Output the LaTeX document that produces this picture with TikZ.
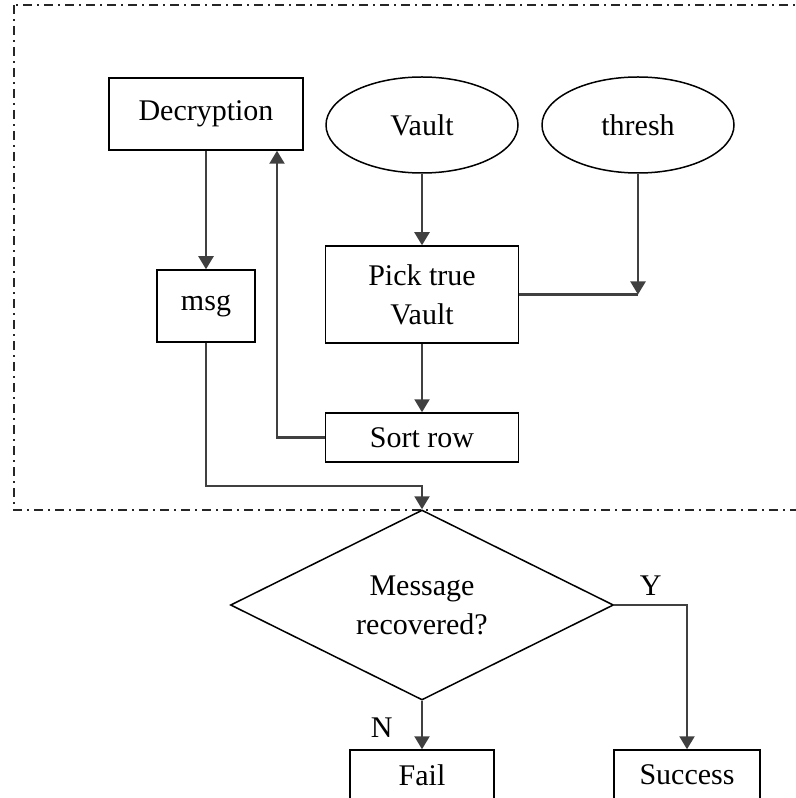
\documentclass[tikz,border=0pt]{standalone}
\usepackage{fontspec}
\setmainfont{Liberation Serif}
\usetikzlibrary{shapes.geometric,arrows.meta}

\begin{document}
\begin{tikzpicture}[x=0.4pt, y=-0.4pt,
    every node/.style={font=\fontsize{12pt}{15.6pt}\selectfont},
    box/.style={draw, rectangle, line width=0.6pt, inner sep=0pt, align=center},
    oval/.style={draw, ellipse, line width=0.6pt, inner sep=0pt,
        minimum width=76.8pt, minimum height=38.4pt},
    decide/.style={draw, diamond, aspect=2, line width=0.6pt, inner sep=0pt,
        align=center, minimum width=153.2pt, minimum height=76pt},
    wire/.style={draw=black!75, line width=0.9pt},
    conn/.style={wire, -{Triangle[length=5.2pt, width=6pt]}}]
    \useasboundingbox (0,0) rectangle (795,798);
    % dash-dot frame, open on the right
    \draw[black!85, line width=0.6pt, dash pattern=on 3.6pt off 2pt on 0.8pt off 2pt]
        (14,5) rectangle (820,510);

    \node[box, minimum width=77.6pt, minimum height=28.8pt] (decrypt) at (206,114) {Decryption};
    \node[oval] (vault) at (422,125) {Vault};
    \node[oval] (thresh) at (638,125) {thresh};
    \node[box, minimum width=77.2pt, minimum height=38.8pt] (pick) at (422,294.5) {Pick true\\Vault};
    \node[box, minimum width=39.2pt, minimum height=28.8pt] (msg) at (206,306) {msg};
    \node[box, minimum width=77.2pt, minimum height=19.6pt] (sortrow) at (422,437.5) {Sort row};
    \node[decide] (recov) at (422,605) {Message\\recovered?};
    \node[box, minimum width=57.6pt, minimum height=20pt] (fail) at (422,775) {Fail};
    \node[box, minimum width=58.4pt, minimum height=20pt] (success) at (687,775) {Success};

    \coordinate (threshin) at (thresh.south |- pick.east);
    \coordinate (upline) at ([xshift=28.4pt]decrypt.south);
    \coordinate (msgbend) at (206,486);

    \draw[conn] (decrypt) -- (msg);
    \draw[conn] (vault) -- (pick);
    \draw[conn] (thresh) -- (threshin);
    \draw[wire] (pick.east) -- (threshin);
    \draw[conn] (pick) -- (sortrow);
    \draw[conn] (sortrow.west) -| (upline);
    \draw[conn] (msg.south) -- (msgbend) -| (recov.north);
    \draw[conn] (recov.east) -| node[pos=0.25, above]{Y} (success.north);
    \draw[conn] (recov.south) -- node[pos=0.55, left=8pt]{N} (fail.north);
\end{tikzpicture}
\end{document}
